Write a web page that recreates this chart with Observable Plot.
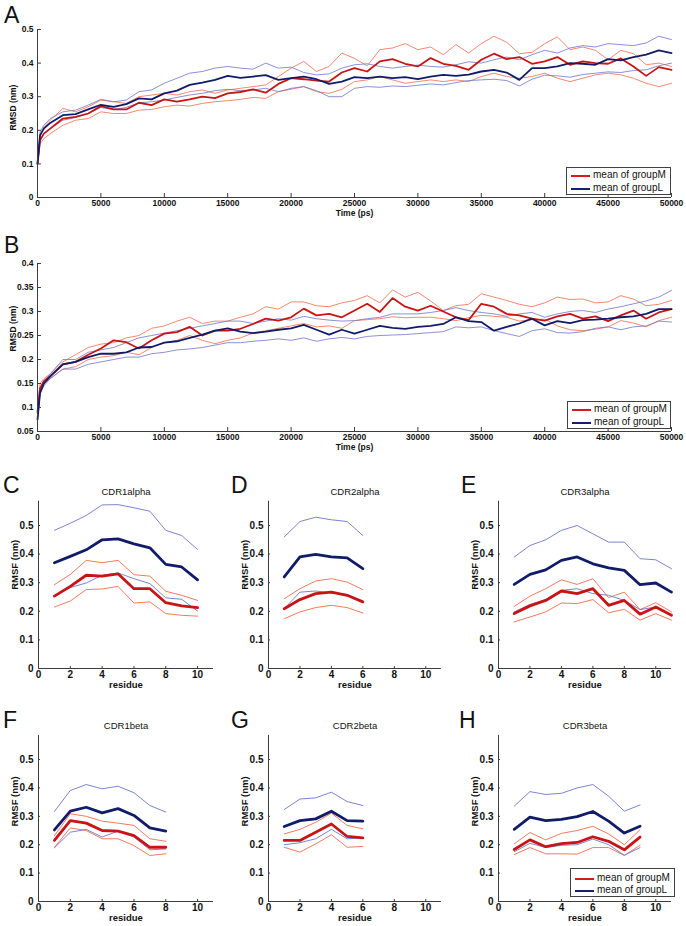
<!DOCTYPE html>
<html>
<head>
<meta charset="utf-8">
<script src="https://cdn.jsdelivr.net/npm/d3@7"></script>
<script src="https://cdn.jsdelivr.net/npm/@observablehq/plot@0.6"></script>
<style>
  body { margin: 0; background: #fff; }
  #fig { position: relative; width: 686px; height: 926px; overflow: hidden; background: #fff; font-family: "Liberation Sans", Arial, sans-serif; color: #111; }
  .letter { position: absolute; font-family: "Liberation Sans", Arial, sans-serif; font-size: 23px; line-height: normal; font-weight: normal; color: #111; }
  .legend { position: absolute; border: 1px solid #404040; background: #fff; box-sizing: border-box; }
  .legend .sw { position: absolute; height: 2px; }
  .legend .lt { position: absolute; font-size: 10px; line-height: 12px; white-space: nowrap; color: #111; }
</style>
</head>
<body>
<div id="fig"></div>
<script>
// ---------- DATA ----------
const times = [0,200,500,1000,2000,3000,4000,5000,6000,7000,8000,9000,10000,11000,12000,13000,14000,15000,16000,17000,18000,19000,20000,21000,22000,23000,24000,25000,26000,27000,28000,29000,30000,31000,32000,33000,34000,35000,36000,37000,38000,39000,40000,41000,42000,43000,44000,45000,46000,47000,48000,49000,50000];
const timeTicks = [0,5000,10000,15000,20000,25000,30000,35000,40000,45000,50000];
const rmsdTicksA = [0,0.1,0.2,0.3,0.4,0.5];
const rmsdTicksB = [0.05,0.1,0.15,0.2,0.25,0.3,0.35,0.4];
const residueTicks = [0,2,4,6,8,10];
const rmsfTicks = [0,0.1,0.2,0.3,0.4,0.5];
const legendLabels = ["mean of groupM","mean of groupL"];

// Panel A (backbone RMSD)
const aMeanM  = [0.10,0.17,0.19,0.205,0.235,0.24,0.25,0.272,0.262,0.262,0.282,0.275,0.292,0.285,0.292,0.30,0.296,0.31,0.314,0.322,0.312,0.338,0.355,0.352,0.348,0.345,0.372,0.385,0.375,0.405,0.412,0.398,0.39,0.415,0.398,0.392,0.38,0.41,0.428,0.412,0.418,0.398,0.405,0.418,0.395,0.405,0.40,0.398,0.414,0.39,0.362,0.388,0.38];
const aUpperM = [0.10,0.18,0.21,0.23,0.265,0.255,0.27,0.29,0.285,0.28,0.30,0.305,0.31,0.305,0.315,0.32,0.31,0.32,0.325,0.33,0.335,0.36,0.385,0.405,0.375,0.39,0.43,0.414,0.392,0.44,0.445,0.458,0.44,0.448,0.425,0.455,0.43,0.458,0.48,0.462,0.428,0.432,0.458,0.478,0.44,0.448,0.438,0.41,0.438,0.428,0.395,0.40,0.39];
const aLowerM = [0.10,0.16,0.175,0.19,0.215,0.23,0.235,0.255,0.25,0.25,0.26,0.262,0.27,0.275,0.272,0.28,0.285,0.288,0.292,0.298,0.295,0.315,0.322,0.33,0.315,0.31,0.322,0.345,0.35,0.36,0.35,0.34,0.345,0.35,0.345,0.35,0.345,0.36,0.37,0.36,0.355,0.36,0.37,0.355,0.345,0.355,0.365,0.37,0.365,0.355,0.34,0.33,0.34];
const aMeanL  = [0.10,0.185,0.205,0.222,0.245,0.248,0.262,0.276,0.27,0.278,0.295,0.292,0.31,0.318,0.335,0.342,0.35,0.362,0.356,0.36,0.364,0.35,0.355,0.36,0.352,0.338,0.345,0.358,0.355,0.36,0.355,0.358,0.352,0.36,0.365,0.362,0.366,0.375,0.38,0.372,0.35,0.385,0.385,0.39,0.4,0.398,0.395,0.412,0.408,0.418,0.425,0.438,0.43];
const aUpperL = [0.10,0.195,0.215,0.235,0.255,0.26,0.275,0.292,0.285,0.29,0.315,0.32,0.34,0.355,0.37,0.375,0.385,0.39,0.385,0.382,0.40,0.385,0.388,0.372,0.365,0.368,0.385,0.395,0.398,0.39,0.385,0.39,0.394,0.39,0.388,0.395,0.404,0.40,0.41,0.418,0.41,0.425,0.438,0.43,0.445,0.452,0.448,0.458,0.455,0.452,0.46,0.48,0.47];
const aLowerL = [0.10,0.17,0.19,0.205,0.23,0.238,0.25,0.268,0.262,0.268,0.282,0.285,0.29,0.298,0.305,0.31,0.318,0.322,0.318,0.32,0.325,0.315,0.325,0.33,0.318,0.30,0.30,0.325,0.33,0.328,0.332,0.33,0.334,0.338,0.335,0.342,0.348,0.35,0.352,0.348,0.332,0.352,0.364,0.362,0.358,0.366,0.37,0.374,0.372,0.378,0.38,0.392,0.40];

// Panel B (CDR RMSD)
const bMeanM  = [0.09,0.14,0.155,0.165,0.19,0.195,0.21,0.223,0.24,0.236,0.223,0.24,0.254,0.257,0.268,0.25,0.26,0.26,0.264,0.274,0.285,0.281,0.288,0.306,0.292,0.295,0.288,0.302,0.316,0.299,0.328,0.31,0.302,0.312,0.30,0.288,0.282,0.316,0.31,0.295,0.292,0.285,0.281,0.29,0.295,0.285,0.29,0.28,0.292,0.302,0.285,0.298,0.305];
const bUpperM = [0.09,0.15,0.16,0.17,0.195,0.21,0.225,0.232,0.235,0.245,0.25,0.265,0.27,0.28,0.288,0.275,0.28,0.28,0.288,0.295,0.31,0.305,0.32,0.32,0.312,0.31,0.318,0.323,0.333,0.318,0.345,0.33,0.34,0.322,0.302,0.312,0.315,0.337,0.33,0.323,0.315,0.31,0.318,0.33,0.325,0.326,0.318,0.32,0.333,0.326,0.312,0.315,0.323];
const bLowerM = [0.09,0.135,0.15,0.16,0.18,0.185,0.2,0.205,0.208,0.215,0.21,0.225,0.235,0.24,0.25,0.24,0.233,0.24,0.245,0.255,0.26,0.265,0.27,0.275,0.268,0.27,0.265,0.281,0.283,0.285,0.289,0.287,0.288,0.288,0.285,0.281,0.287,0.292,0.29,0.288,0.28,0.283,0.284,0.27,0.262,0.26,0.263,0.268,0.281,0.276,0.268,0.281,0.288];
const bMeanL  = [0.075,0.13,0.15,0.165,0.19,0.195,0.205,0.212,0.212,0.215,0.225,0.226,0.235,0.238,0.245,0.252,0.26,0.265,0.258,0.255,0.258,0.262,0.265,0.272,0.262,0.252,0.262,0.254,0.262,0.27,0.266,0.264,0.268,0.27,0.274,0.288,0.28,0.278,0.26,0.268,0.275,0.285,0.271,0.28,0.276,0.282,0.283,0.285,0.288,0.29,0.295,0.305,0.305];
const bUpperL = [0.08,0.14,0.155,0.17,0.2,0.2,0.215,0.22,0.225,0.235,0.245,0.25,0.255,0.26,0.265,0.27,0.275,0.28,0.28,0.275,0.28,0.285,0.282,0.29,0.285,0.282,0.28,0.281,0.285,0.288,0.295,0.295,0.295,0.298,0.302,0.308,0.302,0.298,0.295,0.29,0.295,0.298,0.288,0.295,0.3,0.302,0.298,0.305,0.31,0.316,0.322,0.33,0.344];
const bLowerL = [0.07,0.13,0.145,0.16,0.18,0.18,0.19,0.195,0.2,0.205,0.205,0.212,0.215,0.22,0.222,0.225,0.23,0.235,0.235,0.238,0.24,0.243,0.24,0.245,0.238,0.243,0.246,0.243,0.248,0.25,0.251,0.252,0.254,0.256,0.258,0.268,0.266,0.268,0.26,0.254,0.248,0.26,0.264,0.256,0.255,0.258,0.265,0.268,0.262,0.268,0.27,0.28,0.278];

// RMSF panels: residues
const resC = [1,2,3,4,5,6,7,8,9,10];
const cMeanM  = [0.253,0.287,0.326,0.323,0.331,0.279,0.279,0.23,0.219,0.213];
const cUpperM = [0.293,0.329,0.378,0.37,0.378,0.328,0.323,0.27,0.256,0.238];
const cLowerM = [0.215,0.236,0.276,0.278,0.287,0.229,0.233,0.192,0.186,0.183];
const cMeanL  = [0.37,0.392,0.415,0.45,0.453,0.436,0.422,0.364,0.355,0.31];
const cUpperL = [0.483,0.508,0.535,0.572,0.573,0.562,0.55,0.483,0.465,0.416];
const cLowerL = [0.253,0.283,0.299,0.326,0.334,0.314,0.297,0.247,0.242,0.201];

const resD = [1,2,3,4,5,6];
const dMeanM  = [0.209,0.241,0.262,0.267,0.256,0.233];
const dUpperM = [0.244,0.279,0.306,0.314,0.302,0.276];
const dLowerM = [0.174,0.198,0.213,0.221,0.213,0.194];
const dMeanL  = [0.32,0.39,0.399,0.39,0.387,0.349];
const dUpperL = [0.46,0.514,0.529,0.52,0.514,0.465];
const dLowerL = [0.209,0.267,0.271,0.264,0.259,0.233];

const resE = [1,2,3,4,5,6,7,8,9,10,11];
const eMeanM  = [0.192,0.219,0.238,0.271,0.262,0.279,0.221,0.238,0.19,0.215,0.186];
const eUpperM = [0.217,0.253,0.279,0.31,0.294,0.314,0.248,0.267,0.206,0.23,0.198];
const eLowerM = [0.163,0.18,0.198,0.229,0.227,0.241,0.195,0.207,0.169,0.192,0.169];
const eMeanL  = [0.294,0.329,0.345,0.378,0.39,0.366,0.352,0.343,0.293,0.299,0.267];
const eUpperL = [0.39,0.43,0.45,0.483,0.5,0.471,0.442,0.442,0.384,0.38,0.349];
const eLowerL = [0.198,0.224,0.241,0.273,0.279,0.262,0.256,0.238,0.206,0.215,0.186];

const resF = [1,2,3,4,5,6,7,8];
const fMeanM  = [0.215,0.285,0.276,0.25,0.248,0.232,0.191,0.191];
const fUpperM = [0.232,0.309,0.30,0.283,0.276,0.268,0.221,0.212];
const fLowerM = [0.191,0.259,0.25,0.221,0.221,0.197,0.162,0.168];
const fMeanL  = [0.252,0.318,0.332,0.312,0.327,0.303,0.259,0.248];
const fUpperL = [0.317,0.391,0.412,0.397,0.406,0.383,0.338,0.315];
const fLowerL = [0.189,0.244,0.254,0.227,0.248,0.227,0.182,0.185];

const resG = [1,2,3,4,5,6];
const gMeanM  = [0.215,0.215,0.244,0.273,0.229,0.224];
const gUpperM = [0.238,0.254,0.279,0.311,0.268,0.256];
const gLowerM = [0.191,0.174,0.203,0.235,0.191,0.194];
const gMeanL  = [0.264,0.285,0.291,0.318,0.285,0.283];
const gUpperL = [0.324,0.361,0.365,0.385,0.352,0.338];
const gLowerL = [0.20,0.207,0.221,0.254,0.221,0.224];

const resH = [1,2,3,4,5,6,7,8,9];
const hMeanM  = [0.183,0.217,0.193,0.204,0.208,0.228,0.212,0.182,0.227];
const hUpperM = [0.203,0.243,0.217,0.24,0.25,0.265,0.238,0.20,0.253];
const hLowerM = [0.165,0.19,0.168,0.168,0.167,0.19,0.19,0.162,0.198];
const hMeanL  = [0.254,0.297,0.285,0.289,0.299,0.317,0.283,0.241,0.265];
const hUpperL = [0.336,0.387,0.377,0.381,0.40,0.412,0.371,0.318,0.34];
const hLowerL = [0.175,0.205,0.19,0.198,0.2,0.22,0.2,0.163,0.19];

// ---------- STYLE ----------
const COL = {thickM: "#c81414", thickL: "#101c68", thinM: "#f36a4c", thinL: "#6d75c8", axis: "#3c3c3c", text: "#111",
             legM: "#d61a1a", legL: "#14206e"};
const FONT = "'Liberation Sans', Arial, sans-serif";
const fig = document.getElementById("fig");

function makePanel(c) {
  const fw = c.frame.x1 - c.frame.x0, fh = c.frame.y1 - c.frame.y0;
  const line = (vals, stroke, w) => Plot.line(vals, {x: c.x, y: d => d, stroke, strokeWidth: w});
  const marks = [
    line(c.upperM, COL.thinM, c.thin), line(c.lowerM, COL.thinM, c.thin),
    line(c.upperL, COL.thinL, c.thin), line(c.lowerL, COL.thinL, c.thin),
    line(c.meanM, COL.thickM, c.thick), line(c.meanL, COL.thickL, c.thick),
    Plot.ruleX([c.xDomain[0]], {stroke: COL.axis, strokeWidth: 1}),
    Plot.ruleY([c.yDomain[0]], {stroke: COL.axis, strokeWidth: 1}),
    Plot.tickY(c.yTicks, {y: d => d, stroke: COL.axis, insetRight: fw - c.tickLen}),
    Plot.tickX(c.xTicks, {x: d => d, stroke: COL.axis, insetTop: fh - c.tickLen}),
    Plot.axisY({anchor: "left", ticks: c.yTicks, tickSize: 0, tickPadding: c.yPad, tickFormat: d => String(d),
                label: null, fontWeight: "bold", color: COL.text, fontSize: c.tickFont}),
    Plot.axisX({anchor: "bottom", ticks: c.xTicks, tickSize: 0, tickPadding: c.xPad, tickFormat: d => String(d),
                label: null, fontWeight: "bold", color: COL.text, fontSize: c.tickFont}),
    Plot.text([c.xLabel], {text: d => d, frameAnchor: "bottom", dy: c.xLabelDy, fontSize: c.labelFont,
                           fontWeight: "bold", fill: COL.text}),
    Plot.text([c.yLabel], {text: d => d, frameAnchor: "left", dx: -24, dy: c.yLabelDy, rotate: -90,
                           fontSize: c.labelFont, fontWeight: "bold", fill: COL.text})
  ];
  if (c.title) marks.push(Plot.text([c.title], {text: d => d, frameAnchor: "top", dy: c.titleDy, fontSize: 9.5,
                                                fill: COL.text}));
  const svg = Plot.plot({
    width: c.box.w, height: c.box.h,
    marginLeft: c.frame.x0 - c.box.x, marginRight: c.box.x + c.box.w - c.frame.x1,
    marginTop: c.frame.y0 - c.box.y, marginBottom: c.box.y + c.box.h - c.frame.y1,
    x: {domain: c.xDomain}, y: {domain: c.yDomain},
    style: {fontFamily: FONT, fontSize: c.tickFont + "px", background: "none", overflow: "visible"},
    marks
  });
  svg.style.position = "absolute";
  svg.style.left = c.box.x + "px";
  svg.style.top = c.box.y + "px";
  fig.appendChild(svg);
}

function letter(ch, left, top) {
  const d = document.createElement("div");
  d.className = "letter"; d.textContent = ch;
  d.style.left = left + "px"; d.style.top = top + "px";
  fig.appendChild(d);
}

function legend(left, top, w, h, rowYs, swX, swW, txtX) {
  const d = document.createElement("div");
  d.className = "legend";
  Object.assign(d.style, {left: left + "px", top: top + "px", width: w + "px", height: h + "px"});
  [COL.legM, COL.legL].forEach((col, i) => {
    const s = document.createElement("div");
    s.className = "sw";
    Object.assign(s.style, {left: swX + "px", width: swW + "px", top: (rowYs[i] - 1) + "px", background: col});
    d.appendChild(s);
    const t = document.createElement("div");
    t.className = "lt"; t.textContent = legendLabels[i];
    Object.assign(t.style, {left: txtX + "px", top: (rowYs[i] - 7) + "px"});
    d.appendChild(t);
  });
  fig.appendChild(d);
}

// ---------- PANELS A & B ----------
const commonTime = {x: times, xDomain: [0, 50000], xTicks: timeTicks, thick: 1.8, thin: 0.8, tickLen: 4,
                    tickFont: 8.5, labelFont: 8.5, yPad: 4, xPad: 2.5, xLabel: "Time (ps)", xLabelDy: 18,
                    yLabel: "RMSD (nm)"};
makePanel({...commonTime, box: {x: 0, y: 0, w: 686, h: 224}, frame: {x0: 37, x1: 671, y0: 29, y1: 197},
  yDomain: [0, 0.5], yTicks: rmsdTicksA, yLabelDy: 17,
  meanM: aMeanM, upperM: aUpperM, lowerM: aLowerM, meanL: aMeanL, upperL: aUpperL, lowerL: aLowerL});
makePanel({...commonTime, box: {x: 0, y: 226, w: 686, h: 226}, frame: {x0: 37, x1: 671, y0: 263, y1: 431},
  yDomain: [0.05, 0.4], yTicks: rmsdTicksB, yLabelDy: 4,
  meanM: bMeanM, upperM: bUpperM, lowerM: bLowerM, meanL: bMeanL, upperL: bUpperL, lowerL: bLowerL});

// ---------- RMSF PANELS ----------
const commonRes = {xDomain: [0, 11], xTicks: residueTicks, yDomain: [0, 0.585], yTicks: rmsfTicks,
                   thick: 2.8, thin: 0.9, tickLen: 2, tickFont: 10, labelFont: 9.5, yPad: 5, xPad: 2.5,
                   xLabel: "residue", xLabelDy: 19.5, yLabel: "RMSF (nm)", titleDy: -13};
const rowTop = {box: 454, h: 242, y0: 500.7, y1: 668, dy: 5};
const rowBot = {box: 698, h: 228, y0: 734.9, y1: 901, dy: 8};
const cols = [{bx: 0, bw: 228, x0: 38, x1: 213}, {bx: 228, bw: 230, x0: 268, x1: 441}, {bx: 458, bw: 228, x0: 498, x1: 671}];
function rmsf(row, col, title, x, mM, uM, lM, mL, uL, lL) {
  makePanel({...commonRes, box: {x: col.bx, y: row.box, w: col.bw, h: row.h},
    frame: {x0: col.x0, x1: col.x1, y0: row.y0, y1: row.y1}, yLabelDy: row.dy, title, x,
    meanM: mM, upperM: uM, lowerM: lM, meanL: mL, upperL: uL, lowerL: lL});
}
rmsf(rowTop, cols[0], "CDR1alpha", resC, cMeanM, cUpperM, cLowerM, cMeanL, cUpperL, cLowerL);
rmsf(rowTop, cols[1], "CDR2alpha", resD, dMeanM, dUpperM, dLowerM, dMeanL, dUpperL, dLowerL);
rmsf(rowTop, cols[2], "CDR3alpha", resE, eMeanM, eUpperM, eLowerM, eMeanL, eUpperL, eLowerL);
rmsf(rowBot, cols[0], "CDR1beta", resF, fMeanM, fUpperM, fLowerM, fMeanL, fUpperL, fLowerL);
rmsf(rowBot, cols[1], "CDR2beta", resG, gMeanM, gUpperM, gLowerM, gMeanL, gUpperL, gLowerL);
rmsf(rowBot, cols[2], "CDR3beta", resH, hMeanM, hUpperM, hLowerM, hMeanL, hUpperL, hLowerL);

// ---------- LEGENDS & LETTERS ----------
legend(566, 167, 105, 28, [8, 21], 4, 19, 26);
legend(567, 401, 104, 28, [8, 21], 4, 19, 26);
legend(570, 868, 105, 29, [10, 22], 4, 19, 26);

letter("A", 4, 1.5); letter("B", 4, 232);
letter("C", 3, 472); letter("D", 231, 472); letter("E", 461, 472);
letter("F", 3, 706.5); letter("G", 231, 706.5); letter("H", 459, 706.5);
</script>
</body>
</html>
